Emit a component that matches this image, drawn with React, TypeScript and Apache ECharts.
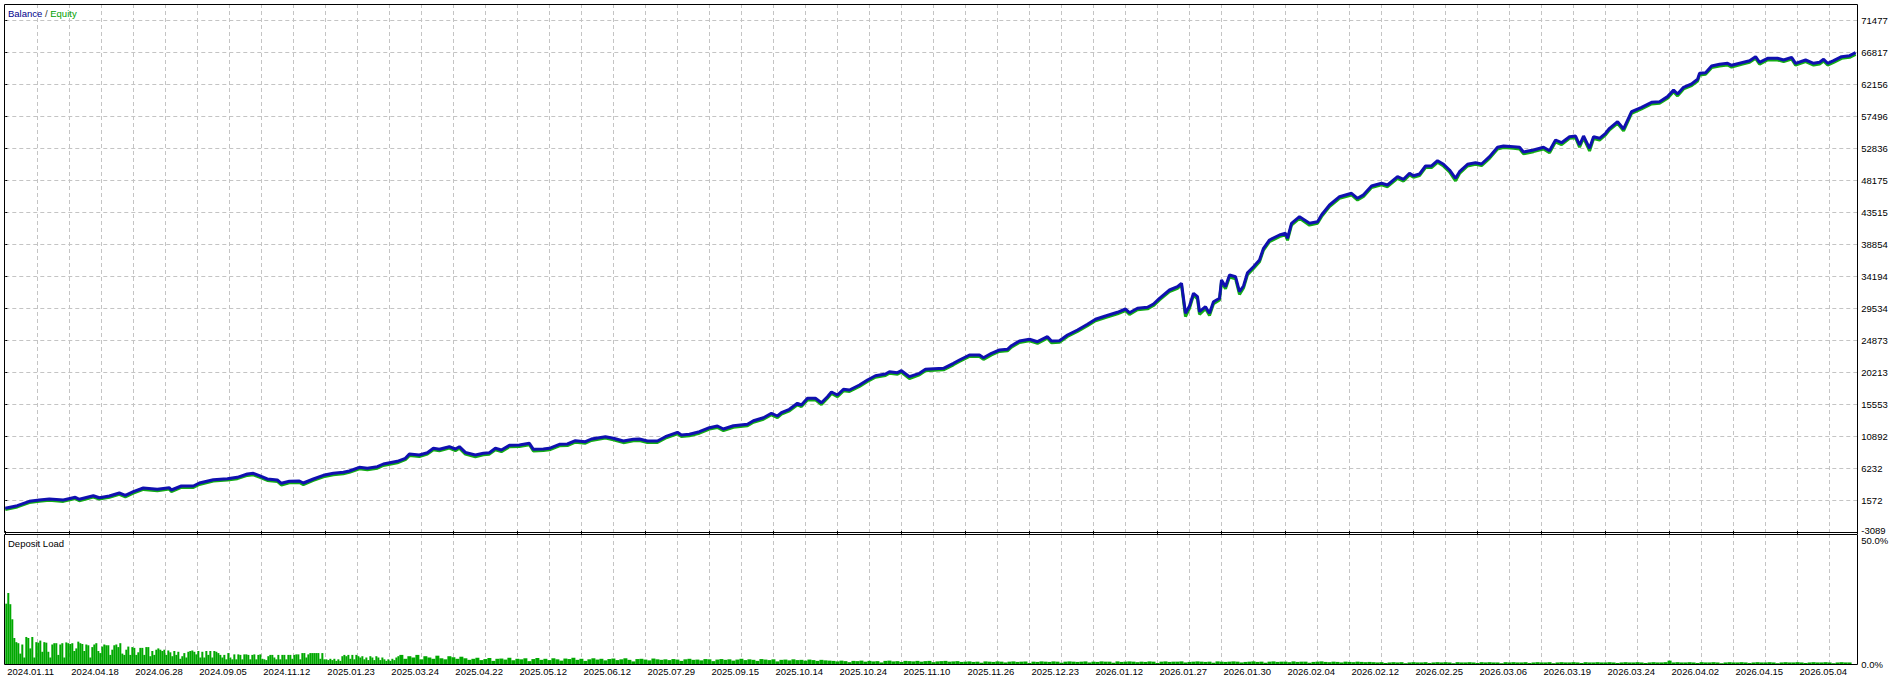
import React, { useEffect, useRef } from 'react';
import * as echarts from 'echarts';

// ---------- tick labels ----------
const yTickLabels = ['-3089', '1572', '6232', '10892', '15553', '20213', '24873', '29534', '34194', '38854', '43515', '48175', '52836', '57496', '62156', '66817', '71477'];
const dateLabels = ['2024.01.11', '2024.04.18', '2024.06.28', '2024.09.05', '2024.11.12', '2025.01.23', '2025.03.24', '2025.04.22', '2025.05.12', '2025.06.12', '2025.07.29', '2025.09.15', '2025.10.14', '2025.10.24', '2025.11.10', '2025.11.26', '2025.12.23', '2026.01.12', '2026.01.27', '2026.01.30', '2026.02.04', '2026.02.12', '2026.02.25', '2026.03.06', '2026.03.19', '2026.03.24', '2026.04.02', '2026.04.15', '2026.05.04'];

// ---------- balance / equity (x = deal number) ----------
const deals = [0, 6, 12, 17, 22, 29, 35, 37, 44, 47, 52, 57, 60, 64, 69, 76, 82, 83, 88, 94, 97, 104, 111, 116, 121, 124, 127, 131, 136, 138, 142, 147, 149, 154, 159, 164, 169, 172, 177, 181, 186, 189, 196, 200, 202, 207, 211, 214, 217, 222, 225, 227, 230, 235, 239, 242, 245, 248, 252, 257, 262, 264, 269, 272, 277, 281, 285, 290, 293, 300, 304, 309, 314, 317, 321, 326, 330, 336, 338, 342, 347, 352, 356, 359, 364, 371, 374, 379, 383, 386, 388, 392, 396, 398, 401, 405, 408, 411, 413, 416, 419, 422, 427, 431, 435, 440, 442, 446, 448, 452, 457, 460, 462, 469, 474, 477, 482, 487, 489, 493, 497, 501, 503, 507, 512, 516, 521, 523, 527, 531, 536, 541, 545, 550, 556, 560, 562, 566, 571, 574, 577, 582, 586, 588, 590, 592, 594, 596, 597, 600, 602, 604, 607, 608, 610, 612, 615, 617, 619, 621, 624, 627, 629, 632, 637, 640, 641, 643, 647, 652, 656, 658, 662, 667, 673, 676, 679, 683, 688, 691, 696, 699, 702, 704, 707, 710, 713, 716, 719, 722, 725, 727, 731, 735, 738, 742, 746, 749, 754, 757, 759, 764, 769, 772, 775, 778, 782, 785, 787, 789, 792, 794, 797, 800, 802, 806, 809, 813, 818, 823, 827, 831, 834, 836, 839, 843, 846, 847, 850, 853, 857, 861, 863, 868, 872, 875, 877, 881, 886, 889, 893, 895, 900, 904, 907, 909, 911, 914, 918, 922, 925];
const balance = [362, 741, 1382, 1571, 1717, 1571, 1964, 1673, 2197, 1906, 2154, 2590, 2255, 2780, 3319, 3129, 3362, 3027, 3610, 3610, 4047, 4527, 4673, 4877, 5358, 5460, 5110, 4629, 4484, 4003, 4294, 4338, 4047, 4629, 5168, 5460, 5605, 5795, 6333, 6188, 6421, 6814, 7207, 7644, 8270, 8125, 8460, 9100, 8955, 9334, 8999, 9334, 8500, 8125, 8372, 8460, 9100, 8853, 9537, 9581, 9829, 8955, 8999, 9100, 9683, 9727, 10207, 10062, 10455, 10790, 10557, 10164, 10411, 10455, 10164, 10164, 10790, 11431, 11038, 11139, 11518, 12101, 12348, 11911, 12392, 12596, 13120, 13558, 14198, 13805, 14285, 14780, 15655, 15407, 16383, 16383, 15742, 16615, 17300, 16863, 17693, 17591, 18320, 19048, 19674, 19921, 20256, 20111, 20402, 19528, 20024, 20606, 20650, 20752, 21480, 21961, 22689, 22689, 22296, 22937, 23417, 23519, 24043, 24728, 24975, 24626, 25354, 24728, 24772, 25602, 26330, 27160, 27889, 28369, 28908, 29389, 28850, 29491, 29636, 30117, 30947, 32155, 32636, 33131, 28762, 29825, 31675, 31180, 28995, 29723, 28762, 30452, 30947, 33612, 32636, 34340, 34093, 31908, 32738, 34674, 35548, 36525, 38228, 39437, 40165, 40413, 39684, 41869, 42832, 41869, 42104, 43078, 44535, 45744, 46238, 45510, 46013, 47302, 47695, 47447, 48656, 48278, 49152, 48802, 49050, 50215, 50215, 50987, 50462, 49633, 48424, 49385, 50462, 50696, 50506, 51570, 52939, 53128, 53026, 52939, 52255, 52545, 52939, 52443, 54001, 53608, 54483, 54584, 53273, 54584, 52793, 54483, 54249, 54977, 55706, 56667, 55604, 58123, 58764, 59492, 59580, 60318, 61282, 60700, 61676, 62157, 62840, 63714, 63802, 64777, 65025, 65170, 64879, 65258, 65549, 66132, 65316, 65899, 65899, 65651, 66045, 65170, 65651, 65170, 65316, 65753, 65170, 65549, 66132, 66278, 66715];
const equity = [180, 560, 1190, 1380, 1520, 1370, 1770, 1460, 2000, 1700, 1960, 2390, 2040, 2580, 3110, 2920, 3160, 2800, 3410, 3400, 3840, 4330, 4470, 4680, 5150, 5250, 4890, 4420, 4280, 3760, 4090, 4130, 3820, 4420, 4960, 5260, 5400, 5590, 6120, 5980, 6210, 6600, 7000, 7440, 8040, 7910, 8250, 8880, 8740, 9120, 8760, 9120, 8260, 7880, 8150, 8250, 8880, 8620, 9320, 9370, 9610, 8710, 8780, 8880, 9470, 9510, 9990, 9840, 10240, 10580, 10340, 9920, 10200, 10240, 9950, 9940, 10570, 11220, 10810, 10920, 11300, 11890, 12130, 11680, 12170, 12380, 12900, 13340, 13980, 13570, 14070, 14560, 15430, 15170, 16150, 16170, 15480, 16390, 17080, 16620, 17470, 17370, 18100, 18830, 19450, 19700, 20030, 19890, 20180, 19270, 19800, 20390, 20430, 20530, 21260, 21740, 22470, 22460, 22050, 22710, 23200, 23300, 23820, 24510, 24750, 24380, 25130, 24470, 24550, 25380, 26110, 26940, 27670, 28150, 28680, 29170, 28600, 29270, 29410, 29890, 30720, 31930, 32410, 32900, 28300, 29500, 31400, 30850, 28600, 29450, 28450, 30150, 30700, 33300, 32350, 34050, 33800, 31500, 32450, 34400, 35300, 36280, 37980, 39200, 39930, 40180, 39400, 41620, 42590, 41600, 41870, 42840, 44300, 45510, 46000, 45250, 45780, 47070, 47460, 47200, 48420, 48020, 48920, 48570, 48820, 49980, 49980, 50750, 50200, 49350, 48050, 49120, 50220, 50460, 50270, 51330, 52700, 52890, 52790, 52700, 51980, 52300, 52700, 52150, 53740, 53340, 54240, 54340, 52950, 54320, 52400, 54220, 54000, 54740, 55470, 56430, 55320, 57880, 58530, 59250, 59340, 60080, 61040, 60430, 61440, 61920, 62600, 63470, 63570, 64540, 64790, 64930, 64620, 65020, 65310, 65890, 65050, 65660, 65660, 65410, 65800, 64900, 65410, 64920, 65080, 65510, 64920, 65310, 65900, 66040, 66480];

// ---------- deposit load, % (early: one per deal, late: one per two deals) ----------
const loadEarly = [23.2, 27.3, 23, 17.2, 10, 8.4, 8, 4, 7.5, 2.5, 10.4, 10, 6, 10.4, 2.5, 8.4, 8.2, 9, 4.7, 8.4, 8.2, 4.7, 2.5, 7.5, 8, 8, 3.5, 7.5, 8, 2.5, 8.3, 8, 7.7, 8, 5, 6, 8.6, 8, 7.7, 5, 7.5, 7.2, 2.5, 6.5, 7.5, 8, 5, 4.2, 6.7, 7.5, 7.2, 7.2, 3.5, 5.5, 7.2, 7.5, 6.5, 8, 4, 3.5, 5.5, 6.7, 3.5, 6.5, 6.2, 3.5, 4.5, 6.2, 6.2, 3.5, 6.5, 6.5, 3, 5, 3.5, 5.5, 6, 5.5, 5, 5.5, 3.5, 5.2, 4.5, 3, 5, 3.5, 4.7, 2, 3, 4.2, 2.5, 4.7, 5, 5.2, 4.7, 3.7, 5, 2.5, 4.7, 2.5, 5, 3.5, 5, 2.5, 5, 4.7, 4.2, 3.5, 2.5, 3.5, 1.8, 4.2, 2.5, 1.8, 3.7, 1.8, 3.7, 3.5, 1.8, 3.7, 3.7, 3.5, 1.8, 3.5, 3.7, 1.8, 3.5, 3.7, 2, 1.8, 1.5, 3, 3.5, 3.5, 2.5, 1.8, 3.5, 1.8, 3.5, 3.5, 1.8, 3.5, 3.5, 2, 3.5, 3.7, 3.7, 1.8, 4.2, 4.2, 2.5, 3.7, 4.2, 4.2, 4.2, 4.2, 4.2, 2, 4.2, 1.8, 1.8, 1.5, 2, 1.5, 2, 1.2, 1.8, 1.2, 3, 3.5, 3, 3.5, 2, 3.5, 1.8, 3.5, 3, 2.5, 3, 1.8, 2.5, 1.5, 3, 2.5, 1.5, 3, 2.5, 1.5, 2.5, 1.8, 1.2, 1.8, 1.2, 2, 1.5, 2.5, 3];
const loadLate = [
  3.5, 2, 3, 2.5, 3.5, 1.8, 3, 2.5, 2, 3.2, 2.2, 1.8, 3, 2.6, 2, 2.8,
  2.2, 1.6, 2.0, 2.4, 1.5, 1.9, 2.3, 1.2, 2.0, 2.1, 1.7, 2.4, 1.4, 2.0, 1.8, 2.2, 1.1, 1.9, 2.3, 1.6,
  2.0, 1.5, 2.2, 1.8, 1.3, 2.1, 1.9, 2.4, 1.6, 2.0, 1.2, 1.8, 2.2, 1.7, 2.0, 1.4, 1.9, 2.1, 1.5, 1.8,
  2.2, 1.6, 1.0, 1.9, 2.0, 1.7, 1.4, 2.1, 1.8, 1.6,
  1.8, 1.5, 1.9, 1.7, 1.2, 1.8, 2.0, 1.6, 1.7, 1.4, 1.9, 1.8, 1.1, 1.7, 1.9, 1.6, 1.8, 1.3, 1.7, 2.0,
  1.5, 1.8, 1.6, 1.2, 1.9, 1.7, 1.5, 1.8, 1.0, 1.6, 1.7, 1.4, 1.8, 1.5, 1.6, 1.3, 1.7, 1.5, 1.2, 1.6,
  1.4, 1.3,
  1.2, 1.0, 1.3, 1.1, 0.7, 1.2, 1.1, 1.3, 0.9, 1.2, 1.0, 1.1, 0.6, 1.2, 1.3, 1.0, 1.1, 0.8, 1.2, 1.1,
  1.0, 1.2, 0.9, 1.1, 1.2, 0.7, 1.0, 1.1, 1.2, 0.9, 1.0, 1.1, 0.8,
  0.9, 1.0, 0.8, 0.9, 0.5, 1.0, 0.9, 0.8, 1.0, 0.9, 0.6, 0.9, 1.0, 0.8, 0.9, 1.0, 0.4, 0.9, 0.8, 1.0,
  0.9, 0.8, 1.0, 0.9, 0.5, 0.9, 1.0, 0.9, 0.8, 0.9, 1.0, 0.6, 0.9, 0.8, 1.0, 0.9, 0.9, 0.5, 1.0, 0.8,
  0.9, 1.0, 0.9, 0.7, 0.9, 0.8, 1.0, 0.9, 0.4, 0.9, 1.0, 0.8, 0.9, 0.9, 1.0, 0.6, 0.8, 0.9, 1.0, 0.9,
  0.8, 0.9, 0.5, 1.0, 0.9, 0.8, 0.9, 1.0, 0.9, 0.6, 0.8, 0.9, 1.0, 0.8, 0.9, 0.5, 0.9, 1.0, 0.8, 0.9,
  0.9, 0.7, 1.0, 0.8, 0.9, 0.9, 0.5, 0.8, 0.9, 1.0, 0.8, 0.7, 0.9, 0.8, 0.6, 0.9, 0.8, 0.7, 0.9, 0.8,
  0.7, 0.8,
  0.7, 0.6, 0.7, 0.4, 0.6, 0.7, 0.6, 0.7, 0.3, 0.6, 0.7, 0.6, 0.6, 0.7, 0.4, 0.6, 0.7, 0.6, 0.7, 0.6,
  0.3, 0.7, 0.6, 0.6, 0.7, 0.6, 0.4, 0.7, 0.6, 0.7, 0.6, 0.6, 0.3, 0.7, 0.6, 0.7, 0.6, 0.6, 0.7, 0.4,
  0.6, 0.7, 0.6, 0.6, 0.7, 0.3, 0.6, 0.7, 0.6, 0.6, 0.7, 0.6, 0.4, 0.7, 0.6, 0.6, 0.7, 0.6, 0.6, 0.7,
  0.6, 0.4, 0.6, 0.7, 0.6, 0.6, 0.7, 0.6, 0.4, 0.6, 0.7, 0.6, 0.6, 0.7, 1.3, 0.6, 0.7, 0.6, 0.6, 0.7,
  0.6, 0.4, 0.7, 0.6, 0.6, 0.7, 0.6, 0.3, 0.6, 0.7, 0.6, 0.6, 0.7, 0.6, 0.4, 0.6, 0.7, 0.6, 0.6, 0.7,
  0.6, 0.3, 0.6, 0.7, 0.6, 0.6, 0.7, 0.6, 0.4, 0.6, 0.7, 0.6, 0.6, 0.7, 0.6, 0.3, 0.6, 0.7, 0.6, 0.6
];

// ---------- layout / style constants ----------
const FONT = '"Liberation Sans", Arial, sans-serif';
const FS = 9.5;
const GRID_C = '#c4c4c4';
const BLUE = '#1010b0';
const GREEN = '#14ad14';
const LOAD_GREEN = '#00a800';
const Y_MIN = -3089;
const Y_STEP = 4660.375;
const Y_MAX = Y_MIN + 16.5 * Y_STEP;
const DEAL_MAX = 925.85;

const PL = 5.3; // plot left
const PW = 1852; // plot width
const MAIN_TOP = 4;
const MAIN_H = 528; // bottom at 532
const LOAD_TOP = 534;
const LOAD_H = 130; // bottom at 664

export default function App() {
  const ref = useRef<HTMLDivElement>(null);
  useEffect(() => {
    if (!ref.current) return;
    const chart = echarts.init(ref.current, undefined, { renderer: 'svg' });
    const dashed = { color: GRID_C, type: [4, 3] as any, width: 1 };
    const lateStart = loadEarly.length;
    const option: any = {
      animation: false,
      backgroundColor: '#ffffff',
      textStyle: { fontFamily: FONT },
      grid: [
        { left: PL, top: MAIN_TOP, width: PW, height: MAIN_H, show: false, outerBoundsMode: 'none', containLabel: false },
        { left: PL, top: LOAD_TOP, width: PW, height: LOAD_H, show: false, outerBoundsMode: 'none', containLabel: false },
      ],
      xAxis: [
        {
          gridIndex: 0, type: 'value', min: 0, max: DEAL_MAX, interval: 16,
          axisLine: { show: false }, axisTick: { show: false }, axisLabel: { show: false },
          splitLine: { show: true, showMinLine: false, showMaxLine: false, lineStyle: dashed },
        },
        {
          gridIndex: 1, type: 'value', min: 0, max: DEAL_MAX, interval: 16,
          axisLine: { show: false }, axisTick: { show: false },
          axisLabel: {
            show: true, align: 'left', margin: 2, padding: [0, 0, 0, 2], color: '#000', fontSize: FS, fontFamily: FONT,
            hideOverlap: false, showMinLabel: true, showMaxLabel: true,
            formatter: (v: number) => {
              const i = v / 32;
              const r = Math.round(i);
              return Math.abs(i - r) < 1e-6 && r < dateLabels.length ? dateLabels[r] : '';
            },
          },
          splitLine: { show: true, showMinLine: false, showMaxLine: false, lineStyle: dashed },
        },
        {
          gridIndex: 1, type: 'value', min: 0, max: DEAL_MAX, interval: 32,
          axisLine: { show: false }, axisLabel: { show: false }, splitLine: { show: false },
          axisTick: { show: true, length: 3, lineStyle: { color: '#000', width: 1 } },
        },
      ],
      yAxis: [
        {
          gridIndex: 0, type: 'value', position: 'right', min: Y_MIN, max: Y_MAX, interval: Y_STEP,
          axisLine: { show: false },
          axisTick: { show: true, length: 2, lineStyle: { color: '#000', width: 1 } },
          axisLabel: {
            show: true, margin: 4, color: '#000', fontSize: FS, fontFamily: FONT,
            hideOverlap: false, showMinLabel: true, showMaxLabel: true,
            formatter: (v: number) => {
              const i = (v - Y_MIN) / Y_STEP;
              const r = Math.round(i);
              if (Math.abs(i - r) > 1e-6 || r >= yTickLabels.length) return '';
              return r === 0 ? '{lo|' + yTickLabels[r] + '}' : yTickLabels[r];
            },
            rich: { lo: { fontSize: FS, fontFamily: FONT, color: '#000', padding: [0, 0, 4, 0] } },
          },
          splitLine: { show: true, showMinLine: false, showMaxLine: false, lineStyle: dashed },
        },
        {
          gridIndex: 1, type: 'value', position: 'right', min: 0, max: 50, interval: 50,
          axisLine: { show: false },
          axisTick: { show: true, length: 2, lineStyle: { color: '#000', width: 1 } },
          axisLabel: {
            show: true, margin: 4, color: '#000', fontSize: FS, fontFamily: FONT,
            hideOverlap: false, showMinLabel: true, showMaxLabel: true,
            formatter: (v: number) => (Math.abs(v) < 1e-6 ? '0.0%' : Math.abs(v - 50) < 1e-6 ? '{hi|50.0%}' : ''),
            rich: { hi: { fontSize: FS, fontFamily: FONT, color: '#000', padding: [12, 0, 0, 0] } },
          },
          splitLine: { show: false },
        },
      ],
      series: [
        {
          name: 'Equity', type: 'line', xAxisIndex: 0, yAxisIndex: 0, symbol: 'none', z: 2,
          lineStyle: { color: GREEN, width: 3 }, itemStyle: { color: GREEN },
          data: deals.map((d, i) => [d, equity[i]]),
        },
        {
          name: 'Balance', type: 'line', xAxisIndex: 0, yAxisIndex: 0, symbol: 'none', z: 3,
          lineStyle: { color: BLUE, width: 3 }, itemStyle: { color: BLUE },
          data: deals.map((d, i) => [d, balance[i]]),
        },
        {
          name: 'Deposit Load', type: 'bar', xAxisIndex: 1, yAxisIndex: 1, barWidth: 2,
          itemStyle: { color: LOAD_GREEN }, z: 2,
          data: loadEarly.map((v, i) => [i + 0.5, v]),
        },
        {
          name: 'Deposit Load late', type: 'bar', xAxisIndex: 2, yAxisIndex: 1, barWidth: 4,
          itemStyle: { color: LOAD_GREEN }, z: 2,
          data: loadLate.map((v, i) => [lateStart + 2 * i + 1, v]),
        },
      ],
      graphic: [
        {
          type: 'rect', silent: true, z: 100,
          shape: { x: 4.5, y: 4.5, width: 1853, height: MAIN_H },
          style: { fill: 'none', stroke: '#000', lineWidth: 1 },
        },
        {
          type: 'rect', silent: true, z: 100,
          shape: { x: 4.5, y: LOAD_TOP + 0.5, width: 1853, height: LOAD_H },
          style: { fill: 'none', stroke: '#000', lineWidth: 1 },
        },
        {
          type: 'text', x: 8, y: 8, z: 100, silent: true,
          style: {
            text: '{b|Balance}{s| / }{e|Equity}',
            font: `${FS}px ${FONT}`,
            rich: {
              b: { fill: '#00008b', fontSize: FS, fontFamily: FONT },
              s: { fill: '#333333', fontSize: FS, fontFamily: FONT },
              e: { fill: '#00a000', fontSize: FS, fontFamily: FONT },
            },
          },
        },
        {
          type: 'text', x: 8, y: LOAD_TOP + 4, z: 100, silent: true,
          style: { text: 'Deposit Load', fill: '#000', font: `${FS}px ${FONT}` },
        },
      ],
    };
    chart.setOption(option);
    return () => chart.dispose();
  }, []);
  return (
    <div
      ref={ref}
      style={{ position: 'fixed', left: 0, top: 0, width: '1902px', height: '682px', background: '#fff' }}
    />
  );
}
